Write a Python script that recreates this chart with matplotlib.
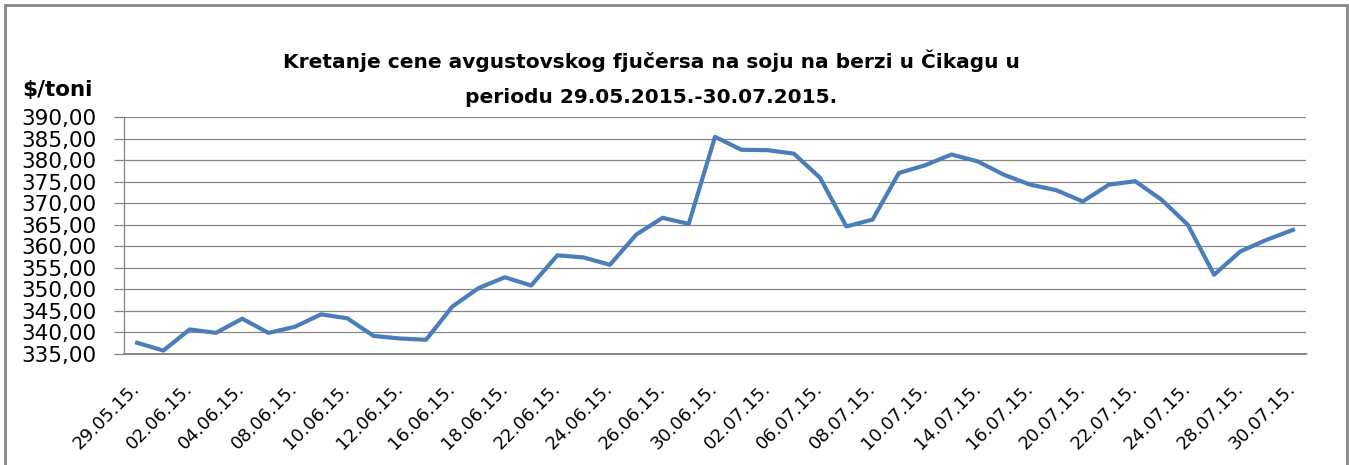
import matplotlib
matplotlib.use("Agg")
import matplotlib.pyplot as plt
from matplotlib.patches import Rectangle

dates = ["29.05.15.", "01.06.15.", "02.06.15.", "03.06.15.", "04.06.15.", "05.06.15.",
         "08.06.15.", "09.06.15.", "10.06.15.", "11.06.15.", "12.06.15.", "15.06.15.",
         "16.06.15.", "17.06.15.", "18.06.15.", "19.06.15.", "22.06.15.", "23.06.15.",
         "24.06.15.", "25.06.15.", "26.06.15.", "29.06.15.", "30.06.15.", "01.07.15.",
         "02.07.15.", "03.07.15.", "06.07.15.", "07.07.15.", "08.07.15.", "09.07.15.",
         "10.07.15.", "13.07.15.", "14.07.15.", "15.07.15.", "16.07.15.", "17.07.15.",
         "20.07.15.", "21.07.15.", "22.07.15.", "23.07.15.", "24.07.15.", "27.07.15.",
         "28.07.15.", "29.07.15.", "30.07.15."]
prices = [337.6, 335.8, 340.7, 339.9, 343.2, 339.9, 341.3, 344.2, 343.3, 339.2,
          338.6, 338.3, 346.0, 350.3, 352.8, 350.9, 357.9, 357.4, 355.7, 362.7,
          366.6, 365.2, 385.4, 382.4, 382.3, 381.5, 375.9, 364.6, 366.2, 377.0,
          378.8, 381.3, 379.7, 376.6, 374.3, 373.0, 370.4, 374.3, 375.1, 370.8,
          365.0, 353.4, 358.8, 361.5, 363.8]
yticks = [335, 340, 345, 350, 355, 360, 365, 370, 375, 380, 385, 390]
ytick_labels = ["335,00", "340,00", "345,00", "350,00", "355,00", "360,00",
                "365,00", "370,00", "375,00", "380,00", "385,00", "390,00"]
title = "Kretanje cene avgustovskog fjučersa na soju na berzi u Čikagu u\nperiodu 29.05.2015.-30.07.2015."
ylabel = "$/toni"

W, H = 1349, 465
fig = plt.figure(figsize=(W / 100, H / 100), dpi=100)
plt.rcParams['font.family'] = ['DejaVu Sans']

ax = fig.add_axes([124 / W, 1 - 354 / H, (1306 - 124) / W, (354 - 117) / H])
x = list(range(len(prices)))
ax.plot(x, prices, color="#4A7EBB", lw=3.0, solid_joinstyle="round", zorder=3)

ax.set_xlim(-0.5, len(prices) - 0.5)
ax.set_ylim(335, 390)
ax.set_yticks(yticks)
ax.set_yticklabels(ytick_labels)
ax.yaxis.grid(True, color="#868686", lw=0.9)
ax.set_axisbelow(True)
ax.tick_params(axis="y", length=7, width=0.9, color="#868686", pad=13, labelsize=15.5)

xt = x[::2]
ax.set_xticks(xt)
ax.set_xticklabels([dates[i] for i in xt], rotation=45, ha="right",
                   rotation_mode="anchor", va="center", fontsize=13)
ax.tick_params(axis="x", length=0, pad=23)

for s in ["top", "right"]:
    ax.spines[s].set_visible(False)
ax.spines["left"].set_color("#868686")
ax.spines["left"].set_linewidth(0.9)
ax.spines["bottom"].set_color("#868686")
ax.spines["bottom"].set_linewidth(1.4)

fig.text(651 / W, 1 - 78 / H, title, ha="center", va="center", fontsize=14.5,
         fontweight="bold", linespacing=2.05, multialignment="center")
fig.text(22 / W, 1 - 90 / H, ylabel, ha="left", va="center", fontsize=15.5,
         fontweight="bold")

fig.patches.append(Rectangle((5 / W, -0.05), (1347 - 5) / W, 1 - 5 / H + 0.05,
                             transform=fig.transFigure, fill=False,
                             edgecolor="#868686", lw=2))

fig.savefig("out.png", dpi=100)
